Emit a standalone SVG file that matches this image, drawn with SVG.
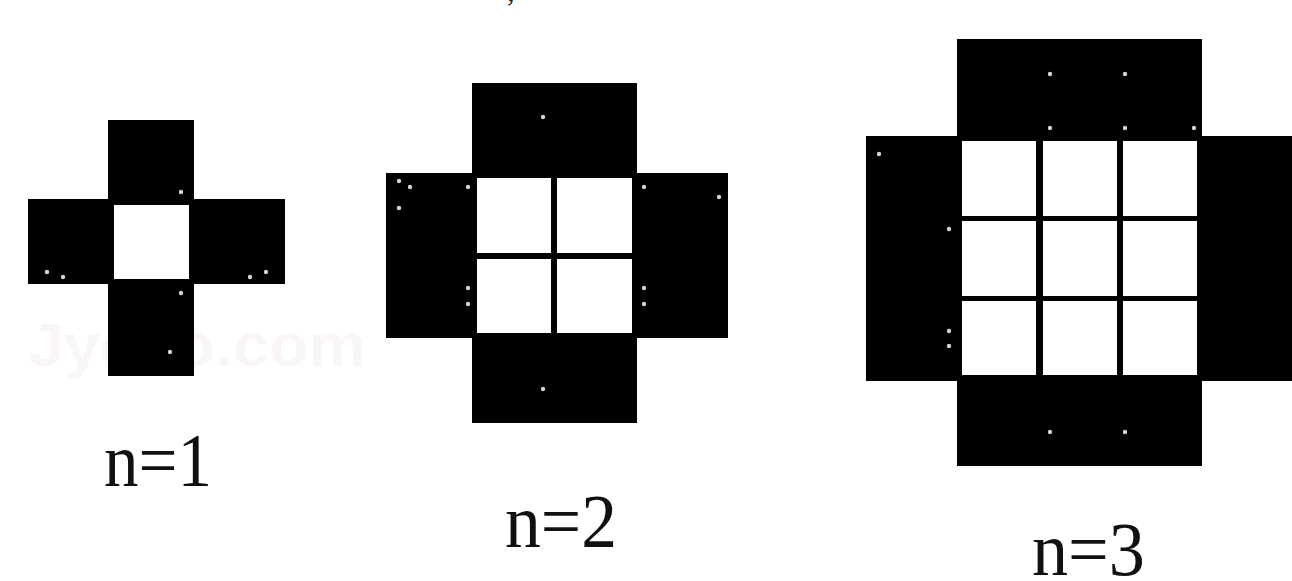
<svg xmlns="http://www.w3.org/2000/svg" width="1292" height="581" viewBox="0 0 1292 581">
<style>
.blk{fill:#000}
.wht{fill:#fff}
.dot{fill:#d4d4d4}
.lbl{font-family:"Liberation Serif","Times New Roman",serif;font-size:76px;fill:#111}
.wm{font-family:"Liberation Sans",Arial,sans-serif;font-weight:bold;font-size:62px;fill:#fbf6f6}
</style>
<rect width="1292" height="581" fill="#fff"/>
<text class="wm" x="28" y="366" textLength="338" lengthAdjust="spacingAndGlyphs">Jyeoo.com</text>
<text x="507" y="1" font-family="Liberation Serif, serif" font-size="30" fill="#222">,</text>
<g id="fig-n1">
  <rect class="blk" x="108" y="120" width="86" height="256"/>
  <rect class="blk" x="28" y="199" width="257" height="85"/>
  <rect class="wht" x="114" y="205" width="75" height="74"/>
  <circle class="dot" cx="181" cy="192" r="2.2"/>
  <circle class="dot" cx="47" cy="272" r="2.2"/>
  <circle class="dot" cx="63" cy="277" r="2.2"/>
  <circle class="dot" cx="250" cy="277" r="2.2"/>
  <circle class="dot" cx="266" cy="272" r="2.2"/>
  <circle class="dot" cx="181" cy="293" r="2.2"/>
  <circle class="dot" cx="170" cy="352" r="2.2"/>
  <text class="lbl" x="104" y="486" textLength="108" lengthAdjust="spacingAndGlyphs">n=1</text>
</g>
<g id="fig-n2">
  <rect class="blk" x="472" y="83" width="165" height="340"/>
  <rect class="blk" x="386" y="173" width="342" height="165"/>
  <rect class="wht" x="477" y="178" width="74" height="75"/>
  <rect class="wht" x="557" y="178" width="75" height="75"/>
  <rect class="wht" x="477" y="259" width="74" height="74"/>
  <rect class="wht" x="557" y="259" width="75" height="74"/>
  <circle class="dot" cx="543" cy="117" r="2.2"/>
  <circle class="dot" cx="399" cy="181" r="2.2"/>
  <circle class="dot" cx="410" cy="187" r="2.2"/>
  <circle class="dot" cx="399" cy="208" r="2.2"/>
  <circle class="dot" cx="468" cy="187" r="2.2"/>
  <circle class="dot" cx="644" cy="187" r="2.2"/>
  <circle class="dot" cx="719" cy="197" r="2.2"/>
  <circle class="dot" cx="468" cy="288" r="2.2"/>
  <circle class="dot" cx="468" cy="304" r="2.2"/>
  <circle class="dot" cx="644" cy="288" r="2.2"/>
  <circle class="dot" cx="644" cy="304" r="2.2"/>
  <circle class="dot" cx="543" cy="389" r="2.2"/>
  <text class="lbl" x="505" y="547" textLength="112" lengthAdjust="spacingAndGlyphs">n=2</text>
</g>
<g id="fig-n3">
  <rect class="blk" x="957" y="39" width="245" height="427"/>
  <rect class="blk" x="866" y="136" width="430" height="245"/>
  <rect class="wht" x="962" y="141" width="74" height="75"/>
  <rect class="wht" x="1043" y="141" width="74" height="75"/>
  <rect class="wht" x="1123" y="141" width="74" height="75"/>
  <rect class="wht" x="962" y="221" width="74" height="75"/>
  <rect class="wht" x="1043" y="221" width="74" height="75"/>
  <rect class="wht" x="1123" y="221" width="74" height="75"/>
  <rect class="wht" x="962" y="301" width="74" height="74"/>
  <rect class="wht" x="1043" y="301" width="74" height="74"/>
  <rect class="wht" x="1123" y="301" width="74" height="74"/>
  <circle class="dot" cx="1050" cy="74" r="2.2"/>
  <circle class="dot" cx="1125" cy="74" r="2.2"/>
  <circle class="dot" cx="1050" cy="128" r="2.2"/>
  <circle class="dot" cx="1125" cy="128" r="2.2"/>
  <circle class="dot" cx="1194" cy="128" r="2.2"/>
  <circle class="dot" cx="879" cy="154" r="2.2"/>
  <circle class="dot" cx="949" cy="229" r="2.2"/>
  <circle class="dot" cx="949" cy="331" r="2.2"/>
  <circle class="dot" cx="949" cy="346" r="2.2"/>
  <circle class="dot" cx="1050" cy="432" r="2.2"/>
  <circle class="dot" cx="1125" cy="432" r="2.2"/>
  <text class="lbl" x="1032" y="575" textLength="113" lengthAdjust="spacingAndGlyphs">n=3</text>
</g>
<g id="connectors"/>
</svg>
